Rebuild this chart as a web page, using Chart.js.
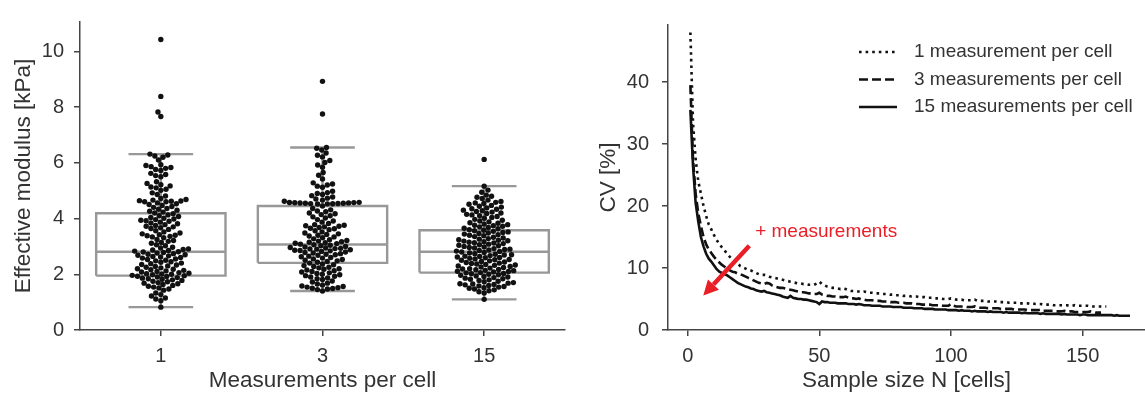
<!DOCTYPE html>
<html><head><meta charset="utf-8">
<script src="https://cdn.jsdelivr.net/npm/chart.js@4.4.1/dist/chart.umd.min.js"></script>
<style>
html,body{margin:0;padding:0;background:#fff;}
#wrap{position:relative;width:1145px;height:396px;overflow:hidden;background:#fff;}
#left{position:absolute;left:0;top:0;width:580px;height:396px;}
#right{position:absolute;left:580px;top:0;width:565px;height:396px;}
</style></head><body>
<div id="wrap"><div id="left"><canvas id="c1" width="580" height="396"></canvas></div><div id="right"><canvas id="c2" width="565" height="396"></canvas></div></div>
<script>
// ---------------- data ----------------
const CATEGORIES = ['1', '3', '15'];
const MOD_1 = [10.42, 8.38, 7.82, 7.66,
  6.31, 6.28, 6.24, 6.20, 6.10, 5.93, 5.90, 5.86, 5.83, 5.80, 5.76, 5.72, 5.62, 5.58, 5.54, 5.50,
  5.32, 5.26, 5.21, 5.17, 5.13, 5.10, 5.05, 5.01, 4.92, 4.86, 4.81, 4.72,
  4.68, 4.66, 4.64, 4.63, 4.62, 4.60, 4.60, 4.56, 4.53, 4.50, 4.47, 4.43, 4.40,
  4.36, 4.33, 4.30, 4.26, 4.23, 4.20, 4.17, 4.13, 4.10, 4.07, 4.04, 4.01,
  3.98, 3.96, 3.94, 3.92, 3.90, 3.87, 3.84, 3.81, 3.78, 3.75, 3.72, 3.70, 3.67, 3.64, 3.61,
  3.56, 3.52, 3.48, 3.45, 3.42, 3.40, 3.38, 3.36, 3.34, 3.31, 3.25, 3.21, 3.18, 3.14, 3.11,
  3.06, 3.02, 2.97, 2.94, 2.91, 2.89, 2.87, 2.85, 2.83, 2.81, 2.80,
  2.78, 2.76, 2.74, 2.72, 2.70, 2.68, 2.66, 2.64, 2.62, 2.60, 2.58, 2.55, 2.53, 2.50,
  2.48, 2.45, 2.43, 2.40, 2.38, 2.35, 2.33, 2.30, 2.28, 2.25, 2.23, 2.20,
  2.18, 2.16, 2.14, 2.12, 2.10, 2.08, 2.06, 2.04, 2.02, 2.01, 2.00,
  1.98, 1.96, 1.95, 1.93, 1.92, 1.90, 1.88, 1.86, 1.84, 1.82, 1.80,
  1.78, 1.75, 1.73, 1.70, 1.68, 1.66, 1.63, 1.60, 1.57, 1.54, 1.51, 1.47, 1.43,
  1.33, 1.27, 1.22, 1.15, 1.11, 1.05, 0.82];
const MOD_3 = [8.92, 7.75,
  6.55, 6.52, 6.46, 6.35, 6.27, 6.21, 6.08, 6.01, 5.92, 5.84, 5.65, 5.55, 5.42,
  5.28, 5.24, 5.20, 5.16, 5.12, 4.98, 4.93, 4.90, 4.86, 4.82, 4.77, 4.73, 4.70, 4.66, 4.62,
  4.58, 4.575, 4.57, 4.565, 4.56, 4.555, 4.55, 4.545, 4.54, 4.535, 4.53, 4.525, 4.52,
  4.45, 4.36, 4.31, 4.27, 4.24, 4.20, 4.17, 4.14, 4.10, 4.06, 4.02, 3.96, 3.91, 3.87, 3.82,
  3.78, 3.76, 3.74, 3.72, 3.70, 3.68, 3.65, 3.63, 3.60, 3.56, 3.52,
  3.48, 3.45, 3.43, 3.40, 3.37, 3.34, 3.31, 3.27, 3.24, 3.21,
  3.19, 3.17, 3.15, 3.13, 3.11, 3.10, 3.08, 3.06, 3.04, 3.02, 3.00,
  2.98, 2.96, 2.94, 2.93, 2.92, 2.91, 2.90, 2.88, 2.86, 2.85, 2.84, 2.82, 2.80,
  2.78, 2.76, 2.74, 2.72, 2.70, 2.68, 2.65, 2.63, 2.60, 2.58, 2.55, 2.53, 2.50,
  2.48, 2.46, 2.43, 2.40, 2.37, 2.34, 2.31, 2.28, 2.25, 2.23, 2.20,
  2.18, 2.15, 2.13, 2.10, 2.08, 2.05, 2.03, 2.00, 1.98, 1.95, 1.93, 1.90,
  1.87, 1.84, 1.81, 1.76, 1.72, 1.68, 1.65, 1.61,
  1.58, 1.56, 1.54, 1.52, 1.50, 1.49, 1.47, 1.45, 1.40];
const MOD_15 = [6.12, 5.16, 5.02, 4.94, 4.84, 4.80, 4.76, 4.72, 4.66, 4.61,
  4.58, 4.56, 4.54, 4.51, 4.47, 4.44, 4.41, 4.38, 4.35, 4.33, 4.30,
  4.28, 4.25, 4.23, 4.20, 4.18, 4.15, 4.13, 4.10, 4.07, 4.04, 4.01,
  3.97, 3.94, 3.91, 3.88, 3.85, 3.83, 3.80, 3.78, 3.76, 3.74, 3.72, 3.70,
  3.68, 3.65, 3.63, 3.60, 3.58, 3.56, 3.54, 3.52, 3.50,
  3.48, 3.46, 3.44, 3.42, 3.40, 3.38, 3.35, 3.33, 3.30,
  3.28, 3.26, 3.24, 3.22, 3.20, 3.19, 3.17, 3.15, 3.13, 3.12, 3.10,
  3.08, 3.06, 3.04, 3.02, 3.00, 2.98, 2.96, 2.94, 2.92, 2.90,
  2.89, 2.87, 2.85, 2.83, 2.82, 2.80, 2.78, 2.76, 2.74, 2.72, 2.70,
  2.69, 2.67, 2.65, 2.64, 2.62, 2.60, 2.59, 2.57, 2.55, 2.53, 2.52, 2.50,
  2.48, 2.46, 2.44, 2.42, 2.40, 2.39, 2.37, 2.35, 2.33, 2.32, 2.30,
  2.28, 2.26, 2.24, 2.22, 2.20, 2.19, 2.17, 2.16, 2.14, 2.13, 2.11, 2.10,
  2.08, 2.06, 2.05, 2.03, 2.02, 2.00, 1.98, 1.96, 1.94, 1.92, 1.90,
  1.88, 1.86, 1.84, 1.82, 1.80, 1.78, 1.75, 1.73, 1.70,
  1.68, 1.66, 1.65, 1.63, 1.62, 1.60, 1.58, 1.56, 1.54, 1.52, 1.50,
  1.47, 1.44, 1.41, 1.37, 1.33, 1.10];
const BOX_Q1 = [1.95, 2.41, 2.06];
const BOX_MED = [2.81, 3.07, 2.81];
const BOX_Q3 = [4.19, 4.45, 3.58];
const WHISK_LO = [0.82, 1.40, 1.10];
const WHISK_HI = [6.31, 6.55, 5.16];

const SERIES_LABELS = ['1 measurement per cell', '3 measurements per cell', '15 measurements per cell'];
// CV [%] for sample size N = 1, 2, 3, ...
const CV_1 = [48.0, 33.5, 27.5, 24.0, 22.0, 20.0, 18.4, 17.0, 16.2, 15.3,
  14.5, 13.9, 13.3, 12.8, 12.3, 11.8, 11.4, 11.0, 10.7, 10.3,
  10.1, 9.9, 9.7, 9.6, 9.4, 9.2, 9.0, 8.9, 8.9, 8.8,
  8.6, 8.5, 8.4, 8.3, 8.2, 8.1, 8.0, 7.9, 7.8, 7.7,
  7.6, 7.5, 7.5, 7.4, 7.4, 7.3, 7.3, 7.3, 7.5, 7.8,
  7.4, 7.2, 7.0, 6.9, 6.8, 6.8, 6.7, 6.6, 6.7, 6.6,
  6.4, 6.3, 6.3, 6.2, 6.2, 6.1, 6.2, 6.1, 6.0, 6.0,
  5.9, 5.9, 5.9, 5.8, 5.8, 5.8, 5.7, 5.7, 5.6, 5.6,
  5.6, 5.5, 5.5, 5.5, 5.4, 5.4, 5.4, 5.3, 5.3, 5.3,
  5.2, 5.2, 5.2, 5.1, 5.1, 5.1, 5.0, 5.0, 5.0, 5.1,
  5.0, 4.9, 4.9, 4.9, 4.8, 4.8, 4.8, 4.8, 4.9, 4.7,
  4.7, 4.7, 4.7, 4.6, 4.6, 4.6, 4.6, 4.5, 4.5, 4.5,
  4.5, 4.4, 4.4, 4.4, 4.4, 4.3, 4.3, 4.3, 4.3, 4.2,
  4.3, 4.2, 4.2, 4.2, 4.1, 4.1, 4.1, 4.1, 4.0, 4.0,
  4.0, 4.0, 4.0, 4.0, 3.9, 3.9, 4.0, 3.9, 3.9, 3.9,
  3.9, 3.9, 3.8, 3.8, 3.8, 3.8, 3.8, 3.8, 3.8];
const CV_3 = [39.5, 27.5, 22.0, 18.8, 16.8, 15.0, 13.8, 13.0, 12.4, 11.8,
  11.3, 10.9, 10.5, 10.2, 9.9, 9.6, 9.4, 9.3, 9.1, 9.0,
  8.8, 8.6, 8.4, 8.2, 8.0, 7.8, 7.6, 7.5, 7.4, 7.6,
  7.5, 7.2, 7.0, 6.9, 6.8, 6.8, 6.7, 6.6, 6.5, 6.4,
  6.3, 6.2, 6.1, 6.1, 6.0, 5.9, 5.9, 5.8, 5.8, 6.0,
  5.7, 5.6, 5.5, 5.5, 5.4, 5.4, 5.3, 5.3, 5.3, 5.4,
  5.2, 5.1, 5.1, 5.0, 5.1, 4.9, 4.9, 4.8, 4.8, 4.8,
  4.7, 4.7, 4.7, 4.6, 4.6, 4.6, 4.5, 4.5, 4.5, 4.4,
  4.4, 4.4, 4.3, 4.3, 4.3, 4.2, 4.2, 4.2, 4.1, 4.1,
  4.1, 4.1, 4.0, 4.0, 4.0, 4.0, 3.9, 3.9, 3.9, 4.2,
  3.9, 3.8, 3.8, 3.8, 3.8, 3.7, 3.7, 3.7, 3.8, 3.6,
  3.6, 3.6, 3.6, 3.5, 3.5, 3.5, 3.5, 3.5, 3.4, 3.4,
  3.4, 3.4, 3.4, 3.3, 3.3, 3.3, 3.3, 3.3, 3.2, 3.2,
  3.2, 3.2, 3.2, 3.3, 3.1, 3.1, 3.1, 3.1, 3.1, 3.0,
  3.0, 3.0, 3.1, 3.0, 3.0, 3.0, 2.9, 2.9, 2.9, 2.9,
  2.9, 2.9, 3.0, 2.9, 2.8, 2.8, 2.8];
const CV_15 = [35.5, 26.5, 20.5, 17.5, 15.0, 13.5, 12.3, 11.5, 11.0, 10.4,
  9.8, 9.4, 9.2, 9.0, 8.8, 8.5, 8.2, 7.9, 7.6, 7.4,
  7.2, 7.0, 6.9, 6.7, 6.6, 6.4, 6.3, 6.2, 6.3, 6.1,
  6.0, 5.9, 5.8, 5.7, 5.6, 5.4, 5.3, 5.2, 5.5, 5.2,
  5.1, 5.0, 5.0, 4.9, 4.9, 4.8, 4.7, 4.6, 4.5, 4.2,
  4.6, 4.5, 4.5, 4.4, 4.4, 4.4, 4.3, 4.3, 4.3, 4.3,
  4.2, 4.2, 4.2, 4.1, 4.2, 4.1, 4.0, 4.0, 4.0, 3.9,
  3.9, 3.9, 3.9, 3.8, 3.8, 3.8, 3.8, 3.7, 3.7, 3.7,
  3.7, 3.6, 3.6, 3.6, 3.6, 3.5, 3.5, 3.5, 3.5, 3.4,
  3.4, 3.4, 3.4, 3.3, 3.3, 3.3, 3.3, 3.3, 3.2, 3.2,
  3.2, 3.2, 3.1, 3.2, 3.1, 3.1, 3.1, 3.0, 3.1, 3.0,
  3.0, 3.0, 3.0, 2.9, 3.0, 2.9, 2.9, 2.9, 2.9, 2.8,
  2.9, 2.8, 2.8, 2.8, 2.8, 2.8, 2.7, 2.8, 2.7, 2.7,
  2.7, 2.7, 2.7, 2.6, 2.7, 2.6, 2.6, 2.6, 2.6, 2.6,
  2.6, 2.5, 2.6, 2.5, 2.5, 2.5, 2.5, 2.5, 2.4, 2.5,
  2.5, 2.4, 2.4, 2.4, 2.4, 2.4, 2.4, 2.4, 2.4, 2.4,
  2.4, 2.3, 2.4, 2.3, 2.3, 2.3, 2.3, 2.3];

// tick values
const LEFT_Y_TICKS = [0, 2, 4, 6, 8, 10];
const RIGHT_X_TICKS = [0, 50, 100, 150];
const RIGHT_Y_TICKS = [0, 10, 20, 30, 40];

// annotation (data coordinates of right panel)
const NOTE_TEXT = '+ measurements';
const NOTE_AT = [25.6, 15.9];
const ARROW_FROM = [23.4, 13.6];
const ARROW_TO = [5.9, 5.55];

// ---------------- style ----------------
const FONT = '"Liberation Sans", Arial, Helvetica, sans-serif';
const TXT = '#333333';
const AXIS = '#454545';
const BOXC = 'rgb(152,152,152)';
const RED = 'rgb(234,30,38)';
Chart.defaults.font.family = FONT;
Chart.defaults.color = TXT;

function axisBase(tickPad, tickValues) {
  return {
    type: 'linear',
    grid: { display: true, drawOnChartArea: false, drawTicks: true, tickLength: 6, color: AXIS, lineWidth: 1.5 },
    border: { display: true, color: AXIS, width: 1.5 },
    ticks: { font: { size: 20, lineHeight: 1.2 }, color: TXT, padding: tickPad, autoSkip: false, maxRotation: 0 },
    afterBuildTicks: s => { s.ticks = tickValues.map(v => ({ value: v })); }
  };
}

// ---------------- left: box + swarm ----------------
const BOX_HALF = 0.4, CAP_HALF = 0.2;
const groups = [MOD_1, MOD_3, MOD_15];
function boxOutline() {
  const p = [];
  CATEGORIES.forEach((c, i) => {
    p.push({x: i - BOX_HALF, y: BOX_Q1[i]}, {x: i + BOX_HALF, y: BOX_Q1[i]}, {x: i + BOX_HALF, y: BOX_Q3[i]},
           {x: i - BOX_HALF, y: BOX_Q3[i]}, {x: i - BOX_HALF, y: BOX_Q1[i]}, {x: i, y: null});
    p.push({x: i - BOX_HALF, y: BOX_MED[i]}, {x: i + BOX_HALF, y: BOX_MED[i]}, {x: i, y: null});
  });
  return p;
}
function whiskers() {
  const p = [];
  CATEGORIES.forEach((c, i) => {
    p.push({x: i, y: BOX_Q3[i]}, {x: i, y: WHISK_HI[i]}, {x: i, y: null});
    p.push({x: i, y: BOX_Q1[i]}, {x: i, y: WHISK_LO[i]}, {x: i, y: null});
    p.push({x: i - CAP_HALF, y: WHISK_HI[i]}, {x: i + CAP_HALF, y: WHISK_HI[i]}, {x: i, y: null});
    p.push({x: i - CAP_HALF, y: WHISK_LO[i]}, {x: i + CAP_HALF, y: WHISK_LO[i]}, {x: i, y: null});
  });
  return p;
}
const swarmInit = [];
groups.forEach((g, i) => g.forEach(v => swarmInit.push({x: i, y: v})));

const leftX = axisBase(8, CATEGORIES.map((c, i) => i));
Object.assign(leftX, {
  min: -0.5, max: 2.5,
  afterFit: s => { s.height = 66; },
  title: { display: true, text: 'Measurements per cell', font: { size: 22.5, lineHeight: 1.2 }, color: TXT, padding: { top: 0, bottom: 2 } }
});
leftX.ticks.callback = v => CATEGORIES[Math.round(v)];
const leftY = axisBase(10, LEFT_Y_TICKS);
Object.assign(leftY, {
  min: 0, max: 11.05,
  afterFit: s => { s.width = 80; },
  title: { display: true, text: 'Effective modulus [kPa]', font: { size: 22.5, lineHeight: 1.2 }, color: TXT, padding: { top: 10.5, bottom: 0 } }
});

const chart1 = new Chart(document.getElementById('c1'), {
  type: 'scatter',
  data: { datasets: [
    { data: swarmInit, pointRadius: 2.7, pointBackgroundColor: '#111', pointBorderWidth: 0, order: 0 },
    { data: boxOutline(), showLine: true, pointRadius: 0, borderColor: BOXC, borderWidth: 2.4, borderJoinStyle: 'miter', spanGaps: false, order: 1 },
    { data: whiskers(), showLine: true, pointRadius: 0, borderColor: BOXC, borderWidth: 2.4, spanGaps: false, order: 2 }
  ]},
  options: {
    responsive: false, animation: false, events: [],
    layout: { padding: { left: 0, top: 5, right: 15, bottom: 0 } },
    plugins: { legend: { display: false }, tooltip: { enabled: false } },
    scales: { x: leftX, y: leftY }
  }
});

function beeswarm(yPix, d) {
  const idx = yPix.map((v, k) => k).sort((a, b) => yPix[b] - yPix[a]);
  const placed = [], off = new Array(yPix.length);
  for (const k of idx) {
    const y = yPix[k];
    const neigh = placed.filter(p => Math.abs(p.y - y) < d);
    const cands = [0];
    for (const p of neigh) { const dx = Math.sqrt(d * d - (p.y - y) * (p.y - y)); cands.push(p.x - dx, p.x + dx); }
    cands.sort((a, b) => Math.abs(a) - Math.abs(b));
    let chosen = 0;
    for (const c of cands) {
      if (neigh.every(p => (p.x - c) * (p.x - c) + (p.y - y) * (p.y - y) >= d * d - 1e-6)) { chosen = c; break; }
    }
    placed.push({x: chosen, y}); off[k] = chosen;
  }
  return off;
}
(function layoutSwarm() {
  const xs = chart1.scales.x, ys = chart1.scales.y;
  const pxPerX = xs.getPixelForValue(1) - xs.getPixelForValue(0);
  const pts = [];
  groups.forEach((g, i) => {
    const off = beeswarm(g.map(v => ys.getPixelForValue(v)), 5.3);
    g.forEach((v, k) => pts.push({x: i + off[k] / pxPerX, y: v}));
  });
  chart1.data.datasets[0].data = pts;
  chart1.update('none');
})();

// ---------------- right: CV vs N ----------------
const toXY = arr => arr.map((v, i) => ({x: i + 1, y: v}));
const rightX = axisBase(8, RIGHT_X_TICKS);
Object.assign(rightX, {
  min: -7.5, max: 173.7,
  afterFit: s => { s.height = 66; },
  title: { display: true, text: 'Sample size N [cells]', font: { size: 22.5, lineHeight: 1.2 }, color: TXT, padding: { top: 0, bottom: 2 } }
});
const rightY = axisBase(13, RIGHT_Y_TICKS);
Object.assign(rightY, {
  min: 0, max: 49.2,
  afterFit: s => { s.width = 88; },
  title: { display: true, text: 'CV [%]', font: { size: 22.5, lineHeight: 1.2 }, color: TXT, padding: { top: 15.3, bottom: 0 } }
});

const legendPlugin = {
  id: 'lineLegend',
  afterDraw(chart) {
    const {ctx, chartArea: a} = chart;
    chart.data.datasets.forEach((ds, i) => {
      const y = a.top + 27 + i * 27.5;
      ctx.save();
      ctx.strokeStyle = ds.borderColor; ctx.lineWidth = ds.borderWidth; ctx.lineCap = 'butt';
      ctx.setLineDash(ds.borderDash || []);
      ctx.beginPath(); ctx.moveTo(a.right - 286, y); ctx.lineTo(a.right - 248, y); ctx.stroke();
      ctx.setLineDash([]);
      ctx.fillStyle = TXT; ctx.font = '19px ' + FONT; ctx.textAlign = 'left'; ctx.textBaseline = 'middle';
      ctx.fillText(ds.label, a.right - 231, y);
      ctx.restore();
    });
  }
};
const notePlugin = {
  id: 'note',
  afterDatasetsDraw(chart) {
    const {ctx, scales: {x, y}} = chart;
    const x0 = x.getPixelForValue(ARROW_FROM[0]), y0 = y.getPixelForValue(ARROW_FROM[1]);
    const x1 = x.getPixelForValue(ARROW_TO[0]), y1 = y.getPixelForValue(ARROW_TO[1]);
    const ang = Math.atan2(y1 - y0, x1 - x0), headLen = 15, headHalf = 7.5;
    const bx = x1 - headLen * Math.cos(ang), by = y1 - headLen * Math.sin(ang);
    ctx.save();
    ctx.strokeStyle = RED; ctx.fillStyle = RED; ctx.lineWidth = 4.5; ctx.lineCap = 'butt';
    ctx.beginPath(); ctx.moveTo(x0, y0); ctx.lineTo(bx, by); ctx.stroke();
    ctx.beginPath(); ctx.moveTo(x1, y1);
    ctx.lineTo(bx + headHalf * Math.sin(ang), by - headHalf * Math.cos(ang));
    ctx.lineTo(bx - headHalf * Math.sin(ang), by + headHalf * Math.cos(ang));
    ctx.closePath(); ctx.fill();
    ctx.font = '19px ' + FONT; ctx.textAlign = 'left'; ctx.textBaseline = 'middle';
    ctx.fillText(NOTE_TEXT, x.getPixelForValue(NOTE_AT[0]), y.getPixelForValue(NOTE_AT[1]));
    ctx.restore();
  }
};

new Chart(document.getElementById('c2'), {
  type: 'line',
  data: { datasets: [
    { label: SERIES_LABELS[0], data: toXY(CV_1), borderColor: '#111', borderWidth: 2.6, borderDash: [2.6, 4], borderCapStyle: 'butt', pointRadius: 0, tension: 0, fill: false },
    { label: SERIES_LABELS[1], data: toXY(CV_3), borderColor: '#111', borderWidth: 2.6, borderDash: [9, 4], borderCapStyle: 'butt', pointRadius: 0, tension: 0, fill: false },
    { label: SERIES_LABELS[2], data: toXY(CV_15), borderColor: '#111', borderWidth: 2.6, borderDash: [], borderCapStyle: 'butt', pointRadius: 0, tension: 0, fill: false }
  ]},
  options: {
    responsive: false, animation: false, events: [],
    layout: { padding: { left: 0, top: 5, right: 0, bottom: 0 } },
    plugins: { legend: { display: false }, tooltip: { enabled: false } },
    scales: { x: rightX, y: rightY }
  },
  plugins: [legendPlugin, notePlugin]
});
</script>
</body></html>
